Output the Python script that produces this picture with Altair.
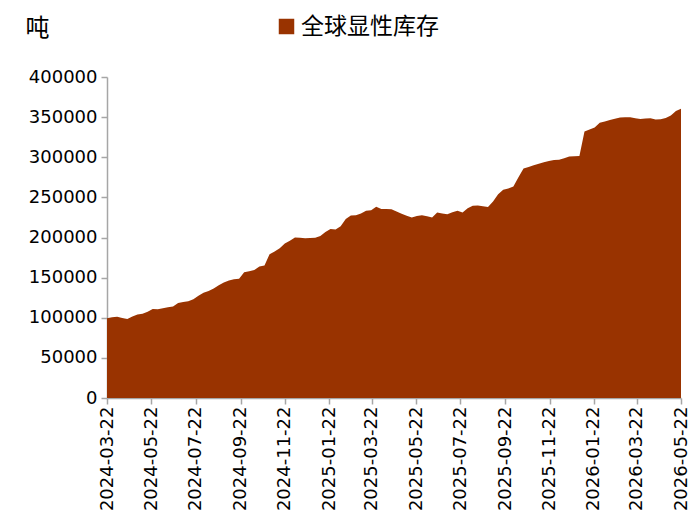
import altair as alt
import pandas as pd

series_name = "全球显性库存"
unit_label = "吨"

values = [
    99500, 100500, 101300, 99800, 98400, 101500, 104000, 105000, 107500, 110800,
    110500, 111800, 113000, 114000, 118500, 119500, 120600, 123000, 127500, 131000,
    133300, 136500, 140500, 144000, 146500, 148000, 148500, 156800, 157800, 159500,
    164000, 165000, 179000, 182500, 186500, 192500, 196000, 200000, 199700, 199000,
    199500, 199800, 202000, 207000, 210600, 210000, 214000, 223000, 227300, 227600,
    230000, 233400, 234000, 238300, 235500, 235500, 235300, 232500, 229500, 227000,
    225000, 226800, 227600, 226500, 225000, 231000, 230000, 229000, 231500, 233300,
    231000, 236300, 239500, 240000, 239000, 238000, 245000, 254000, 259500, 261000,
    263500, 275000, 286000, 288000, 290000, 292000, 293700, 295300, 296700, 297000,
    298800, 300800, 301300, 301500, 332000, 334500, 337000, 343000, 344500, 346400,
    348000, 349500, 350000, 349700, 348500, 347600, 348200, 348500, 347000, 347500,
    349000, 352000, 357500, 360500,
]
dates = pd.date_range("2024-03-22", periods=len(values), freq="7D").strftime("%Y-%m-%d").tolist()

tick_dates = [
    (2024, 3), (2024, 5), (2024, 7), (2024, 9), (2024, 11),
    (2025, 1), (2025, 3), (2025, 5), (2025, 7), (2025, 9), (2025, 11),
    (2026, 1), (2026, 3), (2026, 5),
]

df = pd.DataFrame({"date": dates, "value": values, "series": series_name})

axis_color = "#a6a6a6"

chart = (
    alt.Chart(df)
    .mark_area(color="#993300", interpolate="linear")
    .encode(
        x=alt.X(
            "date:T",
            scale=alt.Scale(
                type="utc",
                domain=[
                    alt.DateTime(year=2024, month=3, date=22, utc=True),
                    alt.DateTime(year=2026, month=5, date=22, utc=True),
                ],
            ),
            axis=alt.Axis(
                values=[alt.DateTime(year=y, month=m, date=22, utc=True) for y, m in tick_dates],
                labelExpr="utcFormat(datum.value, '%Y-%m-%d')",
                labelAngle=-90,
                labelFont="DejaVu Sans",
                labelFontSize=18,
                labelColor="#000000",
                labelPadding=2,
                domainColor=axis_color,
                domainWidth=1.5,
                tickColor=axis_color,
                tickWidth=1.5,
                tickSize=6,
                grid=False,
                title=None,
                labelOverlap=False,
                labelFlush=False,
            ),
        ),
        y=alt.Y(
            "value:Q",
            scale=alt.Scale(domain=[0, 400000], nice=False),
            axis=alt.Axis(
                values=[0, 50000, 100000, 150000, 200000, 250000, 300000, 350000, 400000],
                format="d",
                labelFont="DejaVu Sans",
                labelFontSize=18,
                labelColor="#000000",
                labelPadding=4,
                domainColor=axis_color,
                domainWidth=1.5,
                tickColor=axis_color,
                tickWidth=1.5,
                tickSize=6,
                grid=False,
                title=unit_label,
                titleAngle=0,
                titleFont="Noto Sans CJK SC",
                titleFontSize=24,
                titleFontWeight="normal",
                titleColor="#000000",
                titleAlign="left",
                titleBaseline="top",
                titleX=-82,
                titleY=-61,
            ),
        ),
        color=alt.Color(
            "series:N",
            scale=alt.Scale(domain=[series_name], range=["#993300"]),
            legend=alt.Legend(
                title=None,
                orient="none",
                legendX=168,
                legendY=-62,
                symbolType="square",
                symbolSize=240,
                symbolStrokeWidth=0,
                symbolOpacity=1,
                labelFont="Noto Sans CJK SC",
                labelFontSize=23,
                labelColor="#000000",
                labelOffset=3,
            ),
        ),
    )
    .properties(
        width=574,
        height=321,
        autosize=alt.AutoSizeParams(type="none"),
        padding={"left": 99, "top": 69, "right": 8, "bottom": 114},
    )
    .configure_view(stroke=None)
)

chart.save("out.html", embed_options={"renderer": "svg", "actions": False})
